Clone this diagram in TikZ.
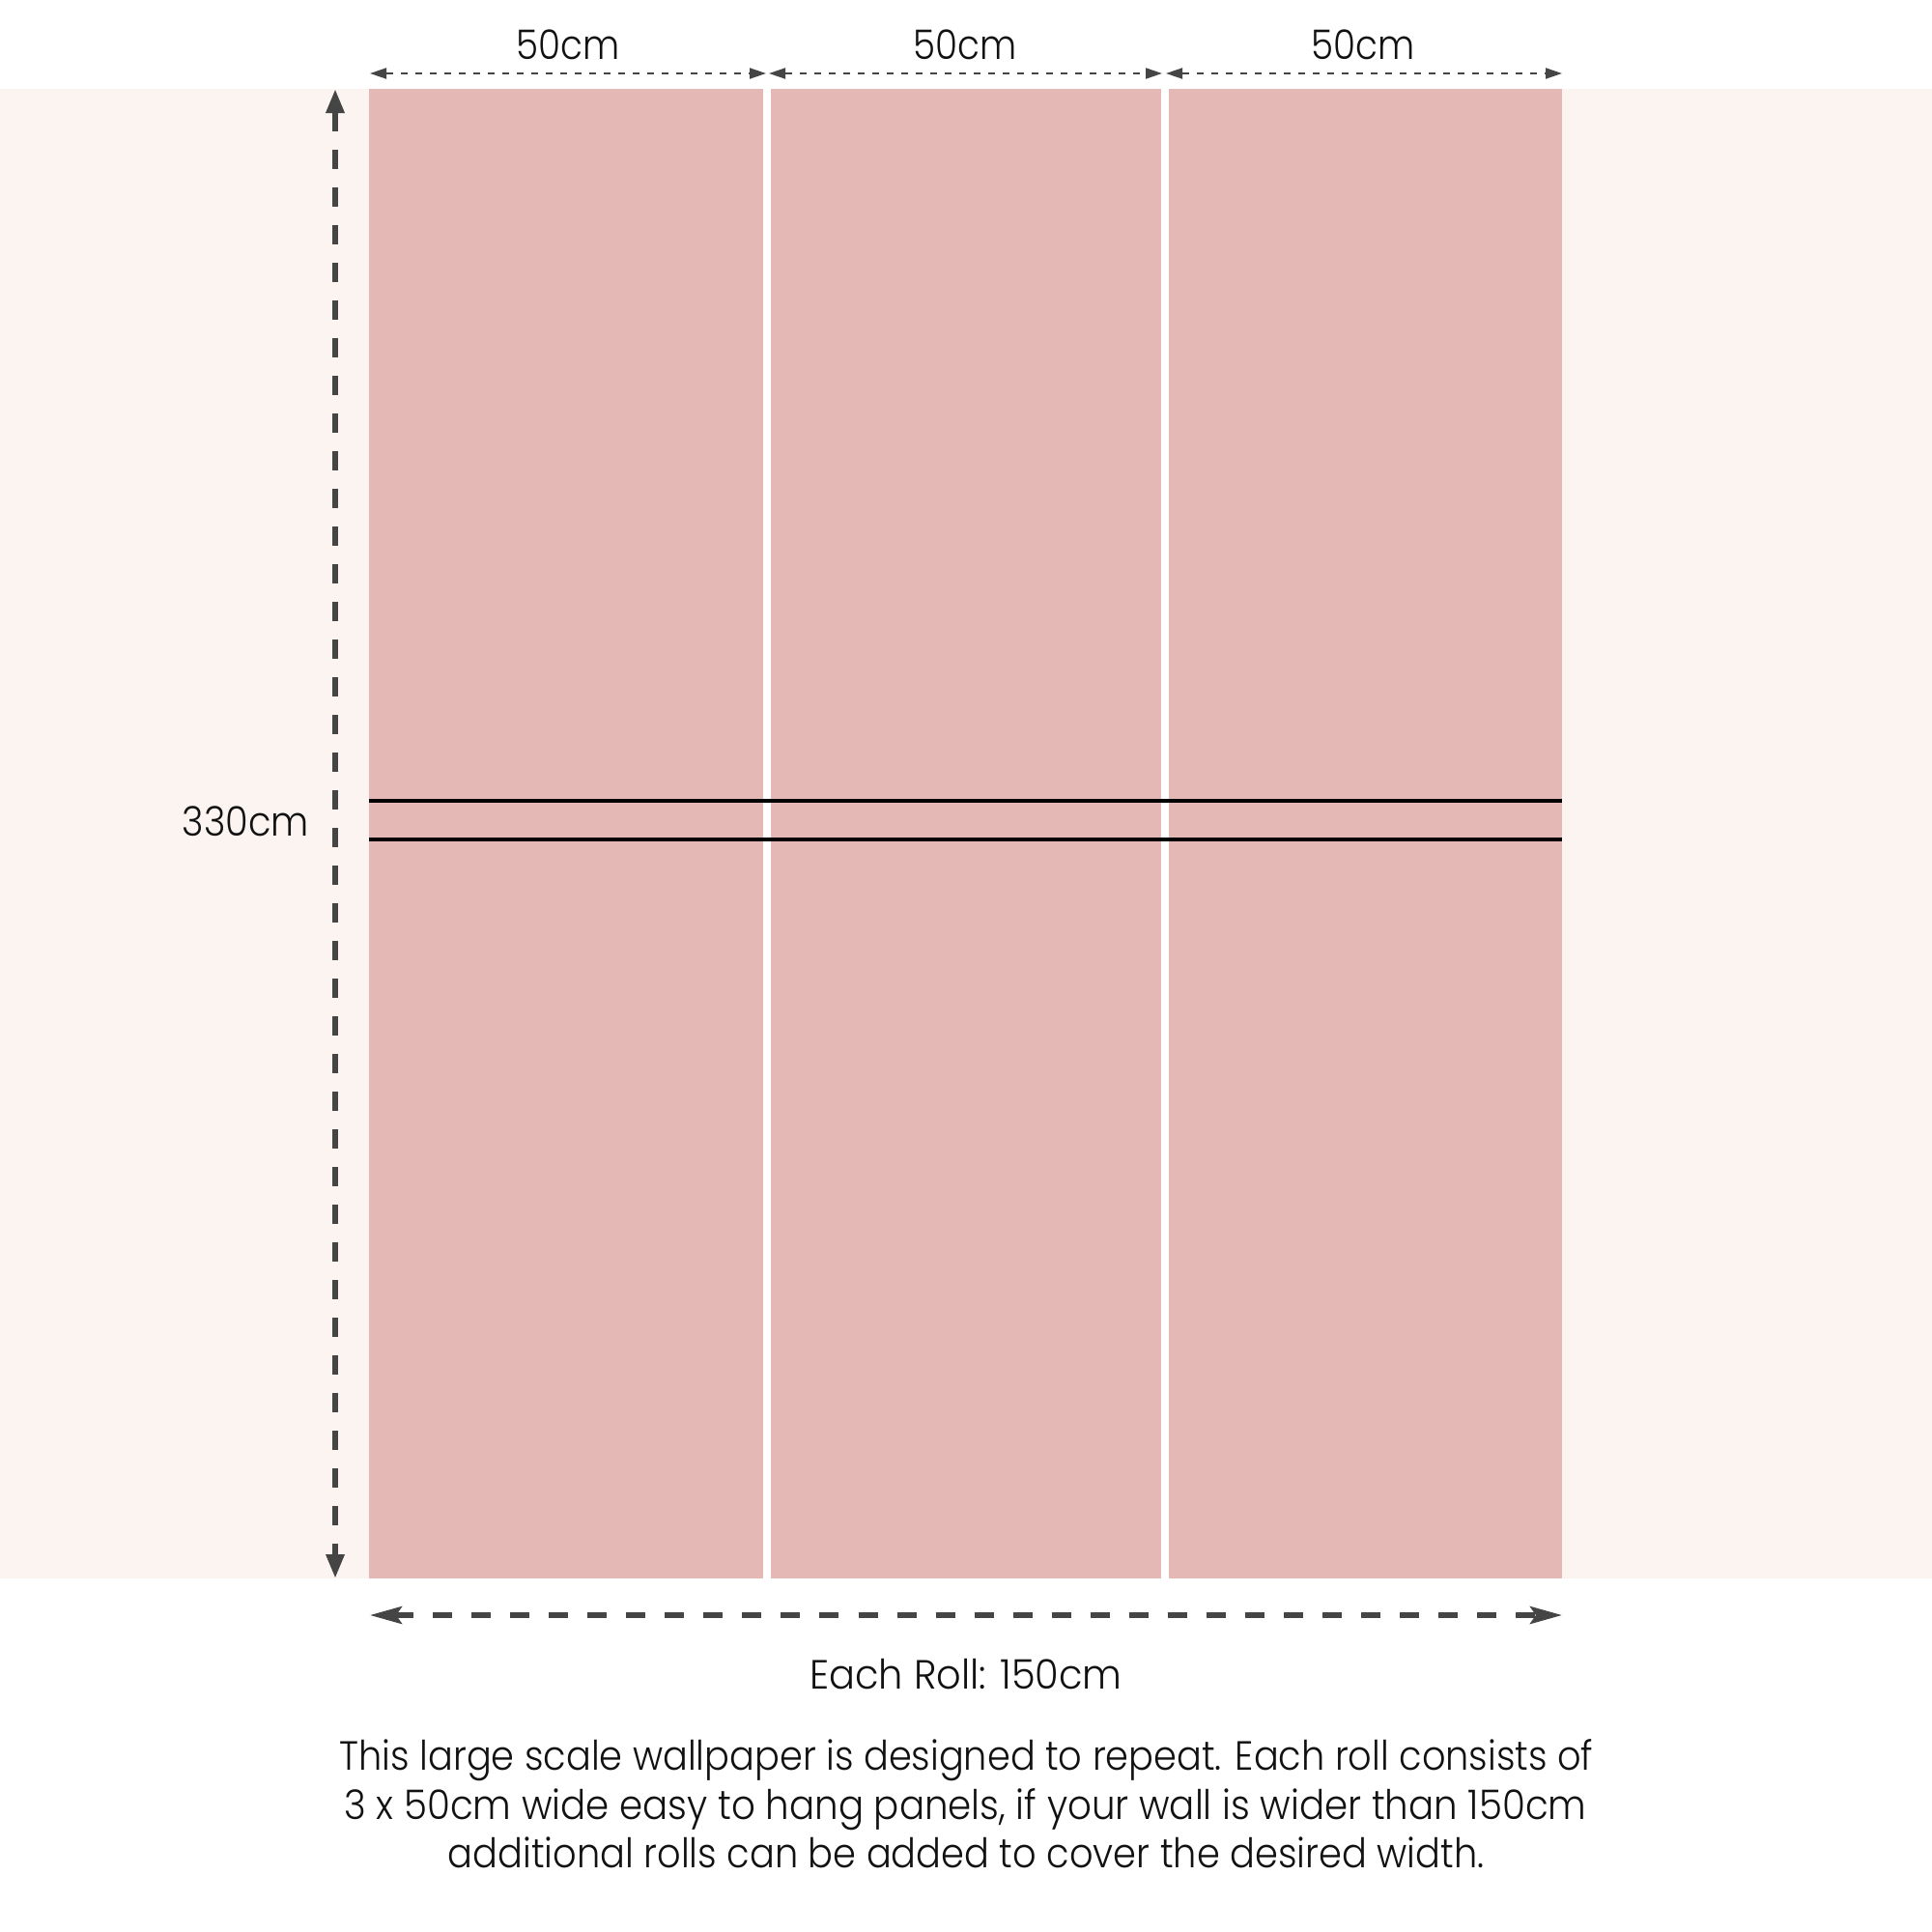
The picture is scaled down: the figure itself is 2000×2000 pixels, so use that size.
\documentclass[tikz,border=0pt]{standalone}
\usepackage{fontspec}
\IfFontExistsTF{Poppins Light}{\setmainfont{Poppins Light}}{\setmainfont{Poppins}}
\usetikzlibrary{arrows.meta}
\definecolor{panelc}{HTML}{E4B8B4}
\definecolor{bandc}{HTML}{FBF4F1}
\definecolor{arrowc}{HTML}{454545}
\definecolor{textc}{HTML}{111111}
\newcommand\fitw[2]{\resizebox{#1}{\height}{#2}}
\tikzset{
  lbl/.style={text=textc, inner sep=0pt, anchor=base, font=\fontsize{12}{14}\selectfont},
  thindim/.style={draw=arrowc, line width=0.55pt, dash pattern=on 0.07cm off 0.08cm,
    {Triangle[length=0.17cm,width=0.11cm]}-{Triangle[length=0.17cm,width=0.11cm]}},
  vdim/.style={draw=arrowc, line width=1.7pt, dash pattern=on 0.2cm off 0.19cm,
    {Triangle[length=0.25cm,width=0.18cm]}-{Triangle[length=0.25cm,width=0.18cm]}},
  hdim/.style={draw=arrowc, line width=1.45pt, dash pattern=on 0.2cm off 0.2cm,
    {Stealth[length=0.33cm,width=0.18cm,inset=0.06cm]}-{Stealth[length=0.33cm,width=0.18cm,inset=0.06cm]}},
  seam/.style={draw=black, line width=0.9pt}
}
\begin{document}
\begin{tikzpicture}[x=0.01cm,y=-0.01cm]
\useasboundingbox[fill=white] (0,0) rectangle (2000,2000);
\fill[bandc] (0,92) rectangle (2000,1634);
% white backing behind the panels (shows in the gaps)
\fill[white] (382,92) rectangle (1617,1634);
% panels
\fill[panelc] (382,92) rectangle (790,1634);
\fill[panelc] (798,92) rectangle (1202,1634);
\fill[panelc] (1210,92) rectangle (1617,1634);
% seam lines
\coordinate (s1a) at (382,829); \coordinate (s1b) at (1617,829);
\coordinate (s2a) at (382,869); \coordinate (s2b) at (1617,869);
\draw[seam] (s1a) -- (s1b);
\draw[seam] (s2a) -- (s2b);
% top dimensions
\coordinate (t0) at (383,76); \coordinate (t1) at (793,76);
\coordinate (t2) at (796,76); \coordinate (t3) at (1203,76);
\coordinate (t4) at (1207,76); \coordinate (t5) at (1617,76);
\draw[thindim] (t0) -- (t1);
\draw[thindim] (t2) -- (t3);
\draw[thindim] (t4) -- (t5);
\node[lbl] (w1) at (588,62) {\fitw{1.07cm}{50cm}};
\node[lbl] (w2) at (999,62) {\fitw{1.07cm}{50cm}};
\node[lbl] (w3) at (1411,62) {\fitw{1.07cm}{50cm}};
% vertical dimension
\coordinate (v0) at (347,92); \coordinate (v1) at (347,1634);
\draw[vdim] (v0) -- (v1);
\node[lbl] (hgt) at (254.5,865) {\fitw{1.31cm}{330cm}};
% bottom dimension
\coordinate (b0) at (383,1672); \coordinate (b1) at (1617,1672);
\draw[hdim] (b0) -- (b1);
\node[lbl] (roll) at (1000,1748) {\fitw{3.23cm}{Each Roll: 150cm}};
% paragraph
\node[lbl] (p1) at (1000.5,1832) {\fitw{12.97cm}{This large scale wallpaper is designed to repeat. Each roll consists of}};
\node[lbl] (p2) at (999.5,1883) {\fitw{12.85cm}{3 x 50cm wide easy to hang panels, if your wall is wider than 150cm}};
\node[lbl] (p3) at (1000,1933) {\fitw{10.72cm}{additional rolls can be added to cover the desired width.}};
\end{tikzpicture}
\end{document}
